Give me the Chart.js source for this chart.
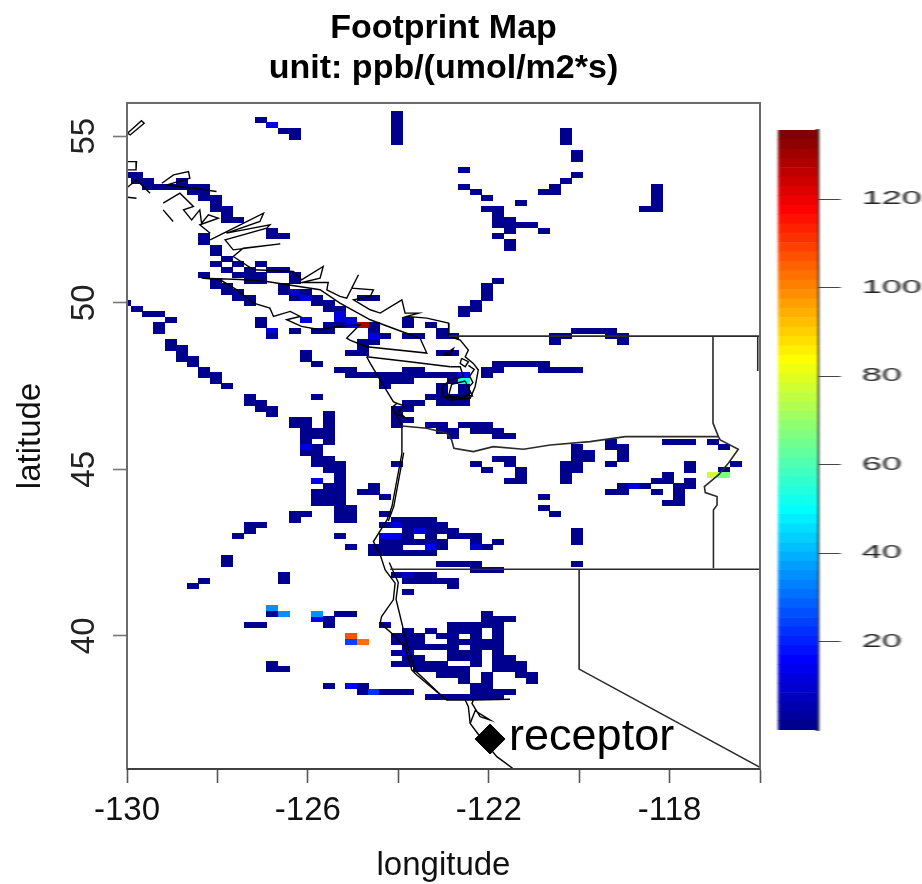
<!DOCTYPE html>
<html>
<head>
<meta charset="utf-8">
<title>Footprint Map</title>
<script src="https://cdn.jsdelivr.net/npm/chart.js@4"></script>
<style>
  html, body { margin: 0; padding: 0; background: #fff; }
  #wrap { position: relative; width: 922px; height: 884px; overflow: hidden; }
  #mapChart { position: absolute; left: 0; top: 0; filter: blur(0.7px); }
  #barChart { position: absolute; left: 770px; top: 0; transform: scaleX(1.9); transform-origin: 0 0; filter: blur(0.5px); }
</style>
</head>
<body>
<div id="wrap">
  <canvas id="mapChart" width="922" height="884"></canvas>
  <canvas id="barChart" width="80" height="884"></canvas>
</div>
<script>
// axis ticks
const lonTicks = [-130, -128, -126, -124, -122, -120, -118, -116];
const lonLabels = [-130, -126, -122, -118];
const latTicks = [40, 45, 50, 55];
const barTicks = [20, 40, 60, 80, 100, 120];
const barMax = 135.6;

// footprint grid: 1/4 deg wide, 1/6 deg tall cells
const gridLon0 = -129.9125;
const gridLat0 = 55.907;

// each entry: row, then first/last column pairs of dark cells (value about 1)
const cellRuns = [
  [1,23,23], [2,11,11,23,23], [3,12,12,23,23], [4,13,14,23,23,38,38], [5,14,14,23,23,38,38], [6,23,23,38,38],
  [8,39,39], [9,39,39], [11,29,29], [12,-1,0,39,39], [13,0,1,4,4,38,38], [14,1,6,29,29,37,37,46,46],
  [15,5,6,30,30,36,37,46,46], [16,6,7,31,31,46,46], [17,7,7,34,34,46,46], [18,7,8,31,32,45,46],
  [19,8,8,32,32], [20,8,9,32,33], [21,32,35], [22,12,12,33,33,36,36], [23,6,6,12,13,32,32],
  [24,6,6,33,33], [25,7,7,33,33], [26,7,7], [27,8,8], [28,7,7,9,9,11,11], [29,8,8,10,10,12,13],
  [30,6,6,9,11,14,14], [31,7,7,10,11,14,14,32,32], [32,7,8,13,13,31,31], [33,8,9,13,15,31,31],
  [34,9,10,14,16,20,21,31,31], [35,-1,-1,10,10,16,17,30,30], [36,0,0,17,18,29,30], [37,1,2,18,18,29,29],
  [38,3,3,11,11,15,15,18,19,24,24], [39,2,2,11,11,17,19,21,21,24,24,26,26],
  [40,2,2,12,12,14,14,16,17,21,21,27,27,39,42], [41,12,12,21,22,24,25,27,28,37,38,42,43],
  [42,3,3,20,21,37,37,43,43], [43,3,4,20,20], [44,4,4,15,15,19,20,27,28], [45,4,5,15,15],
  [46,5,5,16,16,32,36], [47,6,6,18,19,24,25,31,32,36,39], [48,6,7,19,29,31,31], [49,7,7,22,24,28,28],
  [50,8,8,22,22,27,27,29,29], [51,27,27,29,29], [52,10,10,16,16,26,29], [53,10,11,24,25,27,29],
  [54,11,12,23,24], [55,12,12,17,17,23,23], [56,14,15,17,17,23,24], [57,14,15,17,17,23,23,26,27,29,31],
  [58,15,17,27,28,30,32], [59,15,17,28,28,32,33], [60,15,15,17,17,42,42,47,49,51,51],
  [61,15,16,39,39,42,43,52,52], [62,15,16,39,40,43,43], [63,16,17,32,33,39,40,43,43],
  [64,16,18,23,23,30,30,33,33,38,39,42,42,49,49,53,53], [65,17,18,31,31,34,34,38,39,49,49,52,52],
  [66,18,18,34,34,38,38,47,47], [67,16,16,18,18,33,34,38,38,46,47,49,49],
  [68,17,18,21,21,43,45,48,49], [69,16,18,20,21,42,43,46,46,48,48], [70,16,18,22,22,36,36,48,48],
  [71,16,18,47,48], [72,18,19,36,36], [73,14,15,18,19,22,22,37,37], [74,14,14,18,19,23,26],
  [75,10,11,22,27], [76,10,10,24,28,39,39], [77,9,9,18,18,22,24,26,26,28,30,39,39],
  [78,22,27,30,30,32,32,39,39], [79,19,19,21,23,26,27,30,31], [80,21,26], [81,8,8],
  [82,8,8,27,30,39,39], [83,30,32], [84,13,13,23,26], [85,6,6,13,13,24,28], [86,5,5,28,28], [87,24,24],
  [91,12,12,18,19,31,31], [92,17,17,31,33], [93,10,11,17,17,22,22,28,32], [94,24,24,26,26,28,30,32,32],
  [95,23,25,27,28,30,30,32,32], [96,23,25,28,32], [97,24,28,30,32], [98,23,24,28,30,32,32],
  [99,24,25,28,30,32,33], [100,12,12,23,27,30,30,32,34], [101,12,13,25,29,32,34],
  [102,27,29,31,31,34,35], [103,29,29,31,31,35,35], [104,17,17,19,20,30,31], [105,20,24,30,33], [106,26,32]
];

// single cells with a stronger value: row, column, value
const brightCells = [
  [3,12,12], [33,14,10], [34,15,12], [37,18,12], [38,15,12], [38,18,12], [38,19,12], [39,19,12],
  [40,12,12], [41,21,12], [48,29,16], [61,15,12], [67,16,14], [68,44,12], [75,23,12], [76,25,12],
  [77,22,14], [77,23,12], [79,26,16], [79,30,10], [84,24,8], [92,16,16], [98,24,10], [104,19,16], [105,21,22],
  [39,20,128], [49,29,52], [66,51,77], [66,52,67], [90,12,35], [91,13,35], [91,16,35],
  [95,19,107], [96,19,25], [96,20,103]
];

// map outlines as lon/lat pairs
const borderCanada = [[-122.88,49],[-116,49]];
const borderMontana = [[-116.05,49],[-116.05,47.95]];
const borderIdaho = [[-117.04,49],[-117.04,46.39],[-116.92,45.98],[-116.88,45.88],[-116.48,45.6],[-116.7,45.18],[-116.92,44.83],[-117.23,44.48],[-117.21,44.3],[-116.95,44.18],[-116.95,43.93],[-117.03,43.78],[-117.03,42.03]];
const borderColumbia = [[-123.92,46.3],[-123.37,46.23],[-122.93,46.08],[-122.82,45.88],[-122.77,45.63],[-122.34,45.53],[-121.9,45.68],[-121.23,45.6],[-120.64,45.73],[-119.76,45.83],[-118.98,45.98],[-116.92,45.98]];
const border42 = [[-124.18,42],[-116,42]];
const borderNevada = [[-120,42],[-120,39],[-116,36.05]];

const coastSouth = [[-124.7,48.38],[-124.62,48.18],[-124.4,47.68],[-124.11,47.03],[-124.03,46.98],[-124.14,46.86],[-124.07,46.68],[-123.92,46.3],[-123.92,45.48],[-124.14,43.88],[-124.25,43.48],[-124.55,42.83],[-124.4,42.43],[-124.29,41.98],[-124.07,41.58],[-124.11,41.08],[-124.37,40.58],[-124.4,40.38],[-124.14,40.07],[-123.85,39.67],[-123.7,38.97],[-123.59,38.82],[-122.93,38.07],[-122.52,38.07],[-122.45,37.87],[-122.41,37.37],[-122.19,36.97],[-121.82,36.37],[-121.45,36]];
const coastSouth2 = [[-124.2,42.2],[-124.0,41.6],[-124.05,41.1],[-123.8,39.7],[-123.62,38.95],[-123.0,38.15]];
const coastOregon2 = [[-123.88,45.5],[-124.1,43.88],[-124.22,43.45]];
const sfBay = [[-122.52,38.07],[-121.53,38.09],[-122.34,38.07],[-122.37,37.97],[-122.19,37.57],[-121.97,37.47],[-122.3,37.75],[-122.41,37.37]];
const juanDeFuca = [[-124.7,48.38],[-123.75,48.23],[-122.85,48.08]];
const pugetSound = [[-122.85,48.98],[-122.63,48.88],[-122.45,48.58],[-122.52,48.38],[-122.34,48.18],[-122.23,47.98],[-122.3,47.48],[-122.41,47.13],[-122.85,47.08],[-123,47.18],[-123.04,47.48],[-122.85,47.68],[-122.56,47.78],[-122.63,48.08],[-122.85,48.08]];
const pugetLoop = [[-122.52,47.65],[-122.4,47.3],[-122.63,47.12],[-122.89,47.2],[-122.82,47.55],[-122.52,47.65]];
const pugetIslands = [[-123,48.43],[-122.78,48.63],[-122.85,48.43],[-123,48.43]];
const pugetIslands2 = [[-122.6,48.33],[-122.45,48.23],[-122.52,48.08],[-122.63,48.18],[-122.6,48.33]];
const pugetScribble = [[-122.95,47.2],[-122.8,47.12],[-122.7,47.2],[-122.55,47.1],[-122.48,47.22],[-122.36,47.2],[-122.45,47.45],[-122.35,47.6],[-122.42,47.8],[-122.32,48.0],[-122.45,48.12]];
const columbiaMouth = [[-124.03,46.98],[-123.85,46.9],[-124,46.75],[-123.85,46.55],[-124.07,46.68]];

const northIsland = [[-129.99,55.09],[-129.68,55.47],[-129.62,55.39],[-129.93,55.04],[-129.99,55.09]];
const northBox = [[-129.99,54.24],[-129.79,54.24],[-129.8,53.99],[-129.99,53.99]];
const northShore1 = [[-129.99,53.47],[-129.79,53.69],[-129.49,53.29]];
const northShore2 = [[-129.99,53.17],[-129.79,53.14]];
const mainlandNorth = [[-129.23,53.59],[-128.97,53.84],[-128.64,53.94],[-128.61,53.74],[-129.12,53.54],[-128.53,53.44],[-128.02,53.34]];
const smallIsle = [[-129.2,52.79],[-128.98,52.44]];
const inletSquiggle = [[-129.2,52.99],[-128.83,53.29],[-128.53,52.89],[-128.75,52.79],[-128.57,52.49],[-128.39,52.79],[-128.35,52.39],[-128.2,52.64],[-127.98,52.54],[-128.39,52.34],[-128.16,52.09]];
const fjords = [[-128.16,51.89],[-126.98,52.69],[-127.06,52.44],[-127.8,52.09],[-126.84,52.34],[-126.91,52.24],[-127.83,51.89],[-127.65,51.59],[-126.61,51.77],[-127.43,51.64],[-127.65,51.39]];
const mainlandMid = [[-127.65,51.39],[-127.2,50.99],[-126.32,50.94],[-126.14,50.69],[-125.66,51.09],[-125.73,50.74],[-126.14,50.61],[-125.55,50.61],[-125.58,50.39],[-125.29,50.19],[-125.14,50.14],[-124.88,50.84],[-125.03,50.44],[-124.55,50.39],[-124.62,50.19],[-124.99,50.09],[-124.62,49.79],[-124.4,49.69],[-123.92,50.09],[-123.85,49.69],[-123.55,49.69],[-123.81,49.59],[-123.37,49.54],[-122.89,49.39],[-122.88,49]];
const vancouverIsland = [[-128.35,50.74],[-127.5,50.7],[-126.91,50.64],[-125.73,50.39],[-125.29,49.99],[-124.62,49.49],[-124.03,49.19],[-123.52,48.94],[-123.37,48.49],[-124.7,48.68],[-125.07,48.88],[-125.14,48.94],[-124.85,49.34],[-125.36,49.29],[-125.73,49.19],[-126.14,49.29],[-126.47,49.49],[-126.17,49.59],[-126.39,49.74],[-126.76,49.59],[-126.84,49.84],[-127.2,49.99],[-127.57,50.39],[-127.94,50.69],[-128.35,50.74]];

const borderLines = [borderCanada, borderMontana, borderIdaho, borderColumbia, border42, borderNevada];
const coastLines = [coastSouth, coastSouth2, coastOregon2, sfBay, juanDeFuca, pugetSound, pugetLoop, pugetIslands, pugetIslands2, pugetScribble, columbiaMouth,
  northIsland, northBox, northShore1, northShore2, mainlandNorth, smallIsle, inletSquiggle, fjords, mainlandMid, vancouverIsland];

const receptorLon = -121.97;
const receptorLat = 36.9;
const receptorLabel = "receptor";

// colour scale of the legend bar, bottom to top
const barColors = ["#00008F","#00009F","#0000AF","#0000BF","#0000CF","#0000DF","#0000EF","#0000FF","#0010FF","#0020FF","#0030FF","#0040FF","#0050FF","#0060FF","#0070FF","#0080FF",
  "#008FFF","#009FFF","#00AFFF","#00BFFF","#00CFFF","#00DFFF","#00EFFF","#00FFFF","#10FFEF","#20FFDF","#30FFCF","#40FFBF","#50FFAF","#60FF9F","#70FF8F","#80FF80",
  "#8FFF70","#9FFF60","#AFFF50","#BFFF40","#CFFF30","#DFFF20","#EFFF10","#FFFF00","#FFEF00","#FFDF00","#FFCF00","#FFBF00","#FFAF00","#FF9F00","#FF8F00","#FF8000",
  "#FF7000","#FF6000","#FF5000","#FF4000","#FF3000","#FF2000","#FF1000","#FF0000","#EF0000","#DF0000","#CF0000","#BF0000","#AF0000","#9F0000","#8F0000","#800000"];

function colorFor(v) {
  return barColors[Math.min(63, Math.floor(v / barMax * 64))];
}

// turn the row/column lists into lon/lat points, strong cells replace dark ones
const cellMap = new Map();
cellRuns.forEach(run => {
  for (let i = 1; i < run.length; i += 2) {
    for (let c = run[i]; c <= run[i + 1]; c++) cellMap.set(run[0] + ":" + c, [run[0], c, 1]);
  }
});
brightCells.forEach(b => cellMap.set(b[0] + ":" + b[1], b));
const cellPoints = [...cellMap.values()].map(c => ({
  x: gridLon0 + (c[1] + 0.5) / 4,
  y: gridLat0 - (c[0] + 0.5) / 6,
  v: c[2]
}));

// one little canvas per colour, sized from the scales, used as the point image
const sprites = {};
function cellSprite(ctx) {
  const p = ctx.raw;
  if (!p) return "rect";
  const sx = ctx.chart.scales.x, sy = ctx.chart.scales.y;
  const w = Math.ceil(Math.abs(sx.getPixelForValue(-120.25) - sx.getPixelForValue(-120)));
  const h = Math.ceil(Math.abs(sy.getPixelForValue(40) - sy.getPixelForValue(40 + 1 / 6)));
  if (!(w > 0 && h > 0)) return "rect";
  const col = colorFor(p.v);
  const key = col + w + "x" + h;
  if (sprites[key]) return sprites[key];
  const c = document.createElement("canvas");
  c.width = w;
  c.height = h;
  const g = c.getContext("2d");
  g.fillStyle = col;
  g.fillRect(0, 0, w, h);
  sprites[key] = c;
  return c;
}

const toXY = pts => pts.map(p => ({ x: p[0], y: p[1] }));
const lineSet = (pts, color, width) => ({
  type: "line", data: toXY(pts), borderColor: color, borderWidth: width,
  pointRadius: 0, fill: false, tension: 0, order: 1
});

const datasets = [
  { type: "scatter", data: cellPoints, pointStyle: cellSprite, pointRadius: 8, order: 3 },
  ...borderLines.map(l => lineSet(l, "#2a2a2a", 1.6)),
  ...coastLines.map(l => lineSet(l, "#000", 1.4)),
  { type: "scatter", data: [{ x: receptorLon, y: receptorLat }], pointStyle: "rectRot", pointRadius: 15,
    backgroundColor: "#000", borderColor: "#000", order: 0 }
];

const FONT = "'Liberation Sans', Arial, sans-serif";
Chart.defaults.font.family = FONT;
Chart.defaults.color = "#111";

// box on all sides and the receptor text
const framePlugin = {
  id: "frame",
  afterDatasetsDraw(chart) {
    const { ctx, chartArea: a, scales } = chart;
    ctx.save();
    ctx.strokeStyle = "#6a6a6a";
    ctx.lineWidth = 2;
    ctx.strokeRect(a.left, a.top, a.right - a.left, a.bottom - a.top);
    ctx.strokeStyle = "#333";
    ctx.lineWidth = 1.6;
    ctx.beginPath();
    ctx.moveTo(a.left, a.bottom);
    ctx.lineTo(a.right, a.bottom);
    ctx.stroke();
    ctx.fillStyle = "#000";
    ctx.font = "45px " + FONT;
    ctx.textAlign = "left";
    ctx.textBaseline = "middle";
    ctx.fillText(receptorLabel, scales.x.getPixelForValue(receptorLon) + 19, scales.y.getPixelForValue(receptorLat) - 1);
    ctx.restore();
  }
};

new Chart(document.getElementById("mapChart"), {
  type: "scatter",
  data: { datasets },
  plugins: [framePlugin],
  options: {
    responsive: false,
    animation: false,
    events: [],
    layout: { padding: { left: 0, right: 162, top: 0, bottom: 0 } },
    plugins: {
      legend: { display: false },
      tooltip: { enabled: false },
      title: {
        display: true,
        fullSize: false,
        text: ["Footprint Map", "unit: ppb/(umol/m2*s)"],
        color: "#000",
        font: { size: 34, weight: "bold", lineHeight: 1.176 },
        padding: { top: 9, bottom: 14 }
      }
    },
    scales: {
      x: {
        type: "linear", min: -130, max: -116,
        afterBuildTicks: s => { s.ticks = lonTicks.map(v => ({ value: v })); },
        afterFit: s => { s.height = 115; },
        grid: { drawOnChartArea: false, tickLength: 14, color: "#555", tickWidth: 1.6 },
        border: { color: "#555", width: 1.6 },
        ticks: {
          autoSkip: false, maxRotation: 0, padding: 8, color: "#111",
          font: { size: 33 },
          callback: v => lonLabels.includes(v) ? String(v) : ""
        },
        title: { display: true, text: "longitude", color: "#111", font: { size: 33, lineHeight: 1.1 }, padding: 0 }
      },
      y: {
        type: "linear", min: 36, max: 56,
        afterBuildTicks: s => { s.ticks = latTicks.map(v => ({ value: v })); },
        afterFit: s => { s.width = 127; },
        grid: { drawOnChartArea: false, tickLength: 14, color: "#777", tickWidth: 1.6 },
        border: { color: "#777", width: 2 },
        ticks: {
          autoSkip: false, minRotation: 90, maxRotation: 90, crossAlign: "center", padding: 10, color: "#222",
          font: { size: 33 }
        },
        title: { display: true, text: "latitude", color: "#111", font: { size: 33, lineHeight: 1.1 }, padding: { top: 13, bottom: 0 } }
      }
    }
  }
});

// legend bar, each colour is one stacked segment
new Chart(document.getElementById("barChart"), {
  type: "bar",
  data: {
    labels: [""],
    datasets: barColors.map(c => ({
      data: [barMax / barColors.length], backgroundColor: c, borderWidth: 0,
      barPercentage: 1, categoryPercentage: 1
    }))
  },
  options: {
    responsive: false,
    animation: false,
    events: [],
    layout: { padding: { left: 4.2, right: 0, top: 130, bottom: 154 } },
    plugins: { legend: { display: false }, tooltip: { enabled: false } },
    scales: {
      x: { stacked: true, display: false },
      y: {
        stacked: true, position: "right", min: 0, max: barMax,
        afterBuildTicks: s => { s.ticks = barTicks.map(v => ({ value: v })); },
        afterFit: s => { s.width = 54.8; },
        grid: { drawOnChartArea: false, tickLength: 12, color: "#444", tickWidth: 1 },
        border: { color: "#444", width: 2 },
        ticks: { autoSkip: false, padding: 11, color: "#222", font: { size: 19 } }
      }
    }
  }
});
</script>
</body>
</html>
